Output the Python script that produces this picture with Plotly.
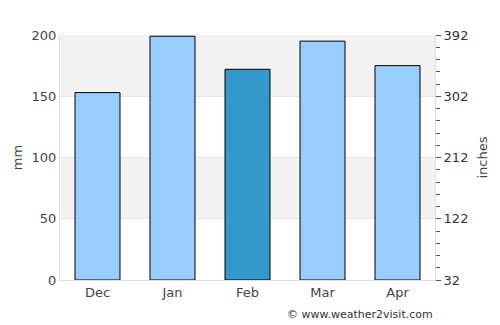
import plotly.graph_objects as go

months = ["Dec", "Jan", "Feb", "Mar", "Apr"]
rain_mm = [153, 199, 172, 195, 175]
bar_colors = ["#99CCFF", "#99CCFF", "#3399CC", "#99CCFF", "#99CCFF"]
left_ticks = [0, 50, 100, 150, 200]
right_ticks = [32, 122, 212, 302, 392]

fig = go.Figure()
fig.add_trace(go.Bar(x=months, y=rain_mm, marker=dict(color=bar_colors, line=dict(color="black", width=1)),
                     width=0.6, hoverinfo="skip"))
fig.add_trace(go.Scatter(x=months, y=[None]*5, yaxis="y2", showlegend=False, hoverinfo="skip"))

for y0, y1 in [(150, 200), (50, 100)]:
    fig.add_shape(type="rect", xref="paper", yref="y", x0=0, x1=1, y0=y0, y1=y1,
                  fillcolor="#f2f2f2", line=dict(width=0), layer="below")

font = dict(family="DejaVu Sans", size=13, color="#444444")
fig.update_layout(
    width=500, height=325, margin=dict(l=60, r=65, t=35, b=45),
    paper_bgcolor="white", plot_bgcolor="white", showlegend=False, bargap=0.4,
    font=font,
    xaxis=dict(showline=True, linecolor="#dddddd", ticks="", tickfont=font, fixedrange=True),
    yaxis=dict(range=[0, 200], tickvals=left_ticks, showgrid=True, gridcolor="#e6e6e6",
               showline=True, linecolor="#dddddd", zeroline=False, ticks="", ticklen=0,
               title=dict(text="mm", font=font, standoff=6), tickfont=font),
    yaxis2=dict(overlaying="y", side="right", range=[32, 392], tickvals=right_ticks,
                showgrid=False, showline=True, linecolor="#dddddd", zeroline=False,
                ticks="outside", ticklen=5, tickcolor="#555555",
                minor=dict(dtick=18, tick0=32, ticks="outside", ticklen=4, tickcolor="#555555"),
                title=dict(text="inches", font=font, standoff=10),
                tickfont=dict(family="DejaVu Sans", size=13, color="#333333")),
)
fig.add_annotation(text="© www.weather2visit.com", xref="paper", yref="paper", x=1, y=-0.105,
                   xanchor="right", yanchor="top", showarrow=False,
                   font=dict(family="DejaVu Sans", size=11, color="#333333"))

fig.write_html("out.html")
